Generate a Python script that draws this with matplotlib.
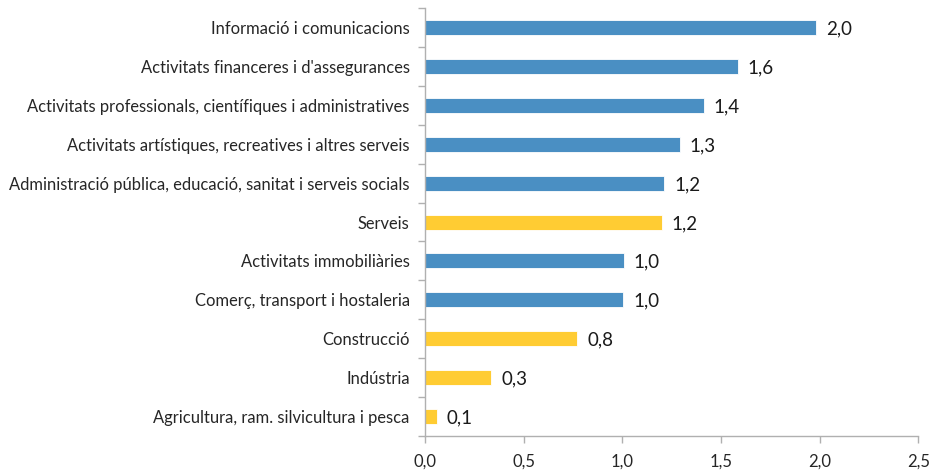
import numpy as np
import matplotlib

matplotlib.use("Agg")
import matplotlib.pyplot as plt
from matplotlib.ticker import FixedLocator, FuncFormatter

plt.rcParams["font.family"] = ["Lato", "DejaVu Sans"]

# categories bottom -> top (barh draws index 0 at the bottom)
sectors = [
    "Agricultura, ram. silvicultura i pesca",
    "Indústria",
    "Construcció",
    "Comerç, transport i hostaleria",
    "Activitats immobiliàries",
    "Serveis",
    "Administració pública, educació, sanitat i serveis socials",
    "Activitats artístiques, recreatives i altres serveis",
    "Activitats professionals, científiques i administratives",
    "Activitats financeres i d'assegurances",
    "Informació i comunicacions",
]
values = [0.061, 0.337, 0.773, 1.006, 1.008, 1.200, 1.213, 1.291, 1.414, 1.587, 1.983]
# big aggregates in yellow, branches of services in blue
is_aggregate = [True, True, True, False, False, True, False, False, False, False, False]

BLUE, YELLOW = "#4a8fc3", "#ffcc33"
AXIS = "#b0b0b0"

fig = plt.figure(figsize=(9.36, 4.71), dpi=100)
ax = fig.add_axes([0.454, 0.075, 0.527, 0.907])

y = np.arange(len(sectors))
colors = [YELLOW if a else BLUE for a in is_aggregate]
ax.barh(y, values, height=0.39, color=colors, edgecolor="white", linewidth=0.6)

for yi, v in zip(y, values):
    ax.annotate(
        f"{v:.1f}".replace(".", ","),
        (v, yi),
        xytext=(7, -1),
        textcoords="offset points",
        va="center",
        ha="left",
        fontsize=13.5,
        color="#1a1a1a",
    )

ax.set_xlim(0, 2.5)
ax.set_ylim(-0.5, len(sectors) - 0.5)
ax.set_xticks(np.arange(0, 2.51, 0.5))
ax.xaxis.set_major_formatter(FuncFormatter(lambda v, _: f"{v:.1f}".replace(".", ",")))
ax.set_yticks(y)
ax.set_yticklabels(sectors, fontsize=11.9, color="#262626")
ax.yaxis.set_minor_locator(FixedLocator(np.arange(-0.5, len(sectors), 1.0)))

ax.tick_params(axis="y", which="major", length=0, pad=11)
ax.tick_params(axis="y", which="minor", length=5, color=AXIS, width=1)
ax.tick_params(axis="x", length=5, color=AXIS, width=1, labelsize=12, labelcolor="#262626", pad=8)

for side in ["top", "right"]:
    ax.spines[side].set_visible(False)
for side in ["left", "bottom"]:
    ax.spines[side].set_color(AXIS)
    ax.spines[side].set_linewidth(1)

fig.savefig("out.png", dpi=100)
